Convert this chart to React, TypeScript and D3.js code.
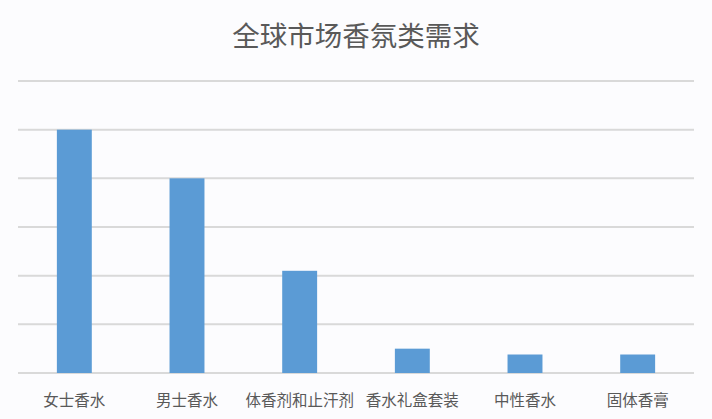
import React from 'react';
import * as d3 from 'd3';

const categories = ['女士香水', '男士香水', '体香剂和止汗剂', '香水礼盒套装', '中性香水', '固体香膏'];
const values = [5, 4, 2.1, 0.5, 0.38, 0.38];
const yTicks = [0, 1, 2, 3, 4, 5, 6];
const title = '全球市场香氛类需求';

const W = 712;
const H = 419;
const margin = { left: 18, right: 18, top: 81, bottom: 46 };

export default function App() {
  const x = d3.scaleBand<string>()
    .domain(categories)
    .range([margin.left, W - margin.right])
    .paddingInner(0.69)
    .paddingOuter(0.345);

  const y = d3.scaleLinear()
    .domain([0, 6])
    .range([H - margin.bottom, margin.top]);

  const font = '"Noto Sans CJK SC", "Microsoft YaHei", sans-serif';

  return (
    <svg width={W} height={H} style={{ position: 'absolute', left: 0, top: 0 }}>
      <rect width={W} height={H} fill="#fcfcfe" />
      <text x={356} y={46} textAnchor="middle" fontSize={27.5} fill="#595959" fontFamily={font}>
        {title}
      </text>
      {/* grid */}
      {yTicks.map(t => (
        <line key={t} x1={margin.left} x2={W - margin.right} y1={y(t)} y2={y(t)}
          stroke="#d9d9d9" strokeWidth={2} />
      ))}
      {/* bars */}
      {categories.map((c, i) => (
        <rect key={c} x={x(c)} y={y(values[i])} width={x.bandwidth()}
          height={y(0) - y(values[i])} fill="#5b9bd5" />
      ))}
      {/* category labels */}
      {categories.map(c => (
        <text key={c} x={(x(c) ?? 0) + x.bandwidth() / 2} y={406} textAnchor="middle"
          fontSize={15.5} fill="#595959" fontFamily={font}>
          {c}
        </text>
      ))}
    </svg>
  );
}
